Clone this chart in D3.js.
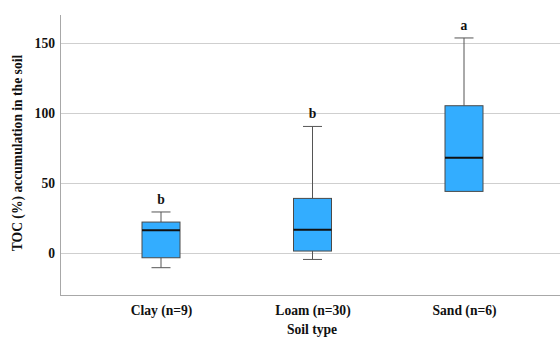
<!DOCTYPE html>
<html><head><meta charset="utf-8">
<script src="https://cdn.jsdelivr.net/npm/d3@7/dist/d3.min.js"></script>
<style>body{margin:0;background:#fff}svg{display:block}text{font-family:"Liberation Serif","Times New Roman",serif;font-weight:bold;fill:#111}</style>
</head><body><svg id="c" width="560" height="338"></svg>
<script>
const categories = ["Clay (n=9)", "Loam (n=30)", "Sand (n=6)"];
const whiskerLow  = [-10.5, -4.6, 44];
const q1          = [-3.4, 1.4, 44];
const median      = [16.3, 16.6, 68];
const q3          = [22.1, 39, 105.2];
const whiskerHigh = [29.3, 90.4, 153.6];
const groupLetters = ["b", "b", "a"];
const yTicks = [0, 50, 100, 150];
const yLabel = "TOC (%) accumulation in the soil";
const xLabel = "Soil type";

const svg = d3.select("#c");
const pLeft = 60, pRight = 560, pTop = 15, pBottom = 295;
const y = d3.scaleLinear().domain([-30, 170]).range([pBottom, pTop]);
const x = d3.scalePoint().domain(categories).range([161, 464]);
const bw = 38, cap = 19;
const fs = 13.6;

// gridlines
svg.append("g").selectAll("line").data(yTicks).join("line")
  .attr("x1", pLeft).attr("x2", pRight)
  .attr("y1", d => Math.round(y(d)) + 0.5).attr("y2", d => Math.round(y(d)) + 0.5)
  .attr("stroke", "#cfcfcf").attr("stroke-width", 1);

// y axis
const ya = svg.append("g").attr("transform", `translate(${pLeft},0)`)
  .call(d3.axisLeft(y).tickValues(yTicks).tickSize(0).tickPadding(5));
ya.select(".domain").remove();
ya.selectAll("text").attr("font-size", fs).attr("font-family", "Liberation Serif").attr("font-weight", "bold").attr("fill", "#111");
svg.append("line").attr("x1", pLeft + 0.5).attr("x2", pLeft + 0.5).attr("y1", pTop).attr("y2", pBottom)
  .attr("stroke", "#a8a8a8");

// x axis
const xa = svg.append("g").attr("transform", `translate(0,${pBottom})`)
  .call(d3.axisBottom(x).tickSize(0).tickPadding(10));
xa.select(".domain").remove();
xa.selectAll("text").attr("font-size", fs).attr("font-family", "Liberation Serif").attr("font-weight", "bold").attr("fill", "#111");
svg.append("line").attr("x1", pLeft).attr("x2", pRight).attr("y1", pBottom + 0.5).attr("y2", pBottom + 0.5)
  .attr("stroke", "#a8a8a8");

// boxes
const data = categories.map((c, i) => ({c, lo: whiskerLow[i], q1: q1[i], med: median[i], q3: q3[i], hi: whiskerHigh[i], L: groupLetters[i]}));
const g = svg.append("g").selectAll("g").data(data).join("g");
g.append("line").attr("x1", d => x(d.c)).attr("x2", d => x(d.c))
  .attr("y1", d => y(d.hi)).attr("y2", d => y(d.q3)).attr("stroke", "#555");
g.append("line").attr("x1", d => x(d.c)).attr("x2", d => x(d.c))
  .attr("y1", d => y(d.q1)).attr("y2", d => y(d.lo)).attr("stroke", "#555");
g.append("line").attr("x1", d => x(d.c) - cap / 2).attr("x2", d => x(d.c) + cap / 2)
  .attr("y1", d => y(d.hi)).attr("y2", d => y(d.hi)).attr("stroke", "#555");
g.filter(d => d.lo < d.q1).append("line").attr("x1", d => x(d.c) - cap / 2).attr("x2", d => x(d.c) + cap / 2)
  .attr("y1", d => y(d.lo)).attr("y2", d => y(d.lo)).attr("stroke", "#555");
g.append("rect").attr("x", d => x(d.c) - bw / 2).attr("width", bw)
  .attr("y", d => y(d.q3)).attr("height", d => y(d.q1) - y(d.q3))
  .attr("fill", "#33adff").attr("stroke", "#4a4a4a").attr("stroke-width", 1);
g.append("line").attr("x1", d => x(d.c) - bw / 2).attr("x2", d => x(d.c) + bw / 2)
  .attr("y1", d => y(d.med)).attr("y2", d => y(d.med)).attr("stroke", "#111").attr("stroke-width", 2);
g.append("text").attr("x", d => x(d.c)).attr("y", d => y(d.hi) - 8)
  .attr("text-anchor", "middle").attr("font-size", fs).text(d => d.L);

// axis titles
svg.append("text").attr("x", (pLeft + pRight) / 2 + 2).attr("y", 334).attr("text-anchor", "middle")
  .attr("font-size", fs).text(xLabel);
svg.append("text").attr("transform", `translate(22,${(pTop + pBottom) / 2 - 2}) rotate(-90)`)
  .attr("text-anchor", "middle").attr("font-size", fs).text(yLabel);
</script></body></html>
